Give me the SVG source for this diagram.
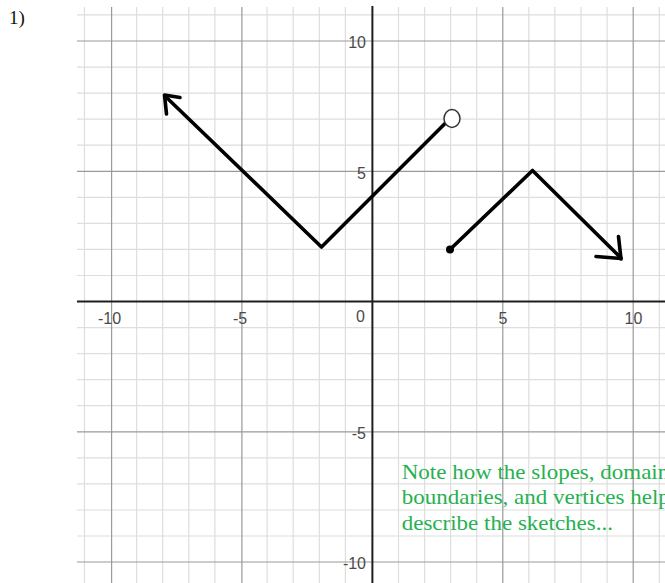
<svg xmlns="http://www.w3.org/2000/svg" width="665" height="583" viewBox="0 0 665 583">
<style>
.minor{stroke:#dedede;stroke-width:1.2;fill:none}
.major{stroke:#9a9a9a;stroke-width:1.2;fill:none}
.axis{stroke:#1e1e1e;stroke-width:2;fill:none}
.lbl{font-family:"Liberation Sans",Arial,sans-serif;font-size:16px;fill:#4a4a4a}
.pen{stroke:#000;stroke-width:3.6;fill:none;stroke-linecap:round;stroke-linejoin:round}
.note{font-family:"Liberation Serif","Times New Roman",serif;font-size:21px;fill:#26b14f}
</style>
<rect width="665" height="583" fill="#fff"/>
<g id="grid">
<g class="minor">
<path d="M84.5 7V583M136.6 7V583M162.7 7V583M188.8 7V583M214.9 7V583M267.1 7V583M293.2 7V583M319.3 7V583M345.4 7V583M398.5 7V583M424.6 7V583M450.6 7V583M476.7 7V583M528.8 7V583M554.9 7V583M581 7V583M607.1 7V583M659.3 7V583"/>
<path d="M77 14.9H665M77 67.1H665M77 93.1H665M77 119.2H665M77 145.2H665M77 197.3H665M77 223.4H665M77 249.4H665M77 275.5H665M77 327.6H665M77 353.6H665M77 379.7H665M77 405.7H665M77 457.9H665M77 483.9H665M77 510H665M77 536H665"/>
</g>
<g class="major">
<path d="M111.6 7V583M241.9 7V583M502.8 7V583M633.2 7V583"/>
<path d="M77 41H665M77 171.3H665M77 431.8H665M77 562H665"/>
</g>
</g>
<g id="axes">
<path class="axis" d="M77 301.5H665"/>
<path class="axis" d="M372.4 6V583" stroke="#333" stroke-width="2.4"/>
</g>
<g id="labels" class="lbl">
<text x="109.5" y="323.5" text-anchor="middle">-10</text>
<text x="240" y="323.5" text-anchor="middle">-5</text>
<text x="365" y="322" text-anchor="end">0</text>
<text x="503" y="323.5" text-anchor="middle">5</text>
<text x="633.5" y="323.5" text-anchor="middle">10</text>
<text x="366" y="48" text-anchor="end">10</text>
<text x="366" y="178.5" text-anchor="end">5</text>
<text x="366" y="439" text-anchor="end">-5</text>
<text x="366" y="569" text-anchor="end">-10</text>
</g>
<text id="problem-number" x="9" y="24" font-family="'Liberation Serif','Times New Roman',serif" font-size="19" fill="#111">1)</text>
<g id="curve-left">
<path class="pen" d="M165 96L321.5 247L445 123.5"/>
<path class="pen" d="M180 97.5L164.5 95L166.5 114"/>
<ellipse cx="452" cy="118.5" rx="8" ry="9" fill="#fff" stroke="#333" stroke-width="1.5"/>
</g>
<g id="curve-right">
<circle cx="450" cy="249.5" r="4" fill="#000"/>
<path class="pen" d="M450 249.5L532.5 170.5L621 258"/>
<path class="pen" d="M618.5 236.5L621 259M596 256.5L621 258.5"/>
</g>
<g id="note" class="note" transform="translate(401.7 0) scale(1.095 1)">
<text x="0" y="479">Note how the slopes, domain</text>
<text x="0" y="504.5">boundaries, and vertices help</text>
<text x="0" y="530">describe the sketches...</text>
</g>
</svg>
